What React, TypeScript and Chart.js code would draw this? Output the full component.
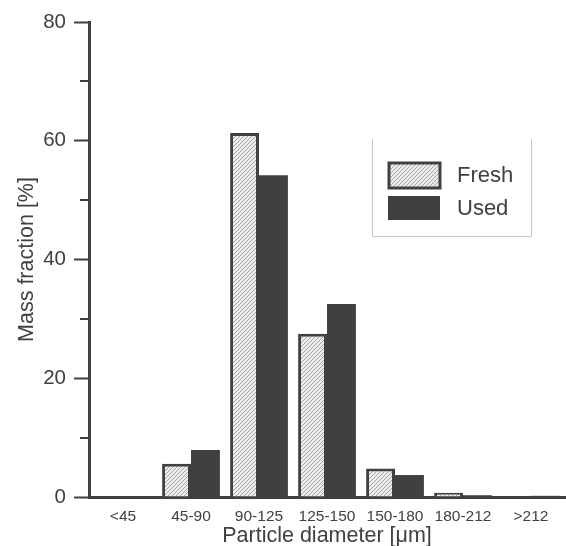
import React, { useEffect, useRef } from 'react';
import { Chart, registerables } from 'chart.js';

Chart.register(...registerables);

const categories = ['<45', '45-90', '90-125', '125-150', '150-180', '180-212', '>212'];
const freshValues = [0, 5.6, 61.3, 27.5, 4.8, 0.7, 0.05];
const usedValues = [0, 7.9, 54.2, 32.5, 3.7, 0.3, 0.2];
const seriesLabels = ['Fresh', 'Used'];
const yMinorTicks = [10, 30, 50, 70];

const INK = '#404040';
const FONT = "'Liberation Sans', Arial, sans-serif";

function makeHatch(): CanvasPattern | string {
  const c = document.createElement('canvas');
  c.width = 4;
  c.height = 4;
  const g = c.getContext('2d');
  if (!g) return '#d8d8d8';
  g.fillStyle = '#ececec';
  g.fillRect(0, 0, 4, 4);
  g.fillStyle = '#a6a6a6';
  for (let i = 0; i < 4; i++) g.fillRect(i, 3 - i, 1, 1);
  return g.createPattern(c, 'repeat') || '#d8d8d8';
}

const minorTickPlugin = {
  id: 'minorTicks',
  afterDraw(chart: any) {
    const y = chart.scales.y;
    const ctx = chart.ctx;
    const left = chart.chartArea.left;
    ctx.save();
    ctx.strokeStyle = INK;
    ctx.lineWidth = 2;
    yMinorTicks.forEach((v) => {
      const py = Math.round(y.getPixelForValue(v));
      ctx.beginPath();
      ctx.moveTo(left - 9, py);
      ctx.lineTo(left, py);
      ctx.stroke();
    });
    ctx.restore();
  },
};

const legendPlugin = {
  id: 'boxLegend',
  afterDraw(chart: any) {
    const ctx = chart.ctx;
    const ds = chart.data.datasets;
    ctx.save();
    ctx.strokeStyle = '#c8c8c8';
    ctx.lineWidth = 1;
    ctx.beginPath();
    ctx.moveTo(372.5, 139);
    ctx.lineTo(372.5, 236.5);
    ctx.lineTo(531.5, 236.5);
    ctx.lineTo(531.5, 139);
    ctx.stroke();
    ctx.fillStyle = ds[0].backgroundColor;
    ctx.fillRect(389, 163, 51, 25);
    ctx.strokeStyle = ds[0].borderColor;
    ctx.lineWidth = 3;
    ctx.strokeRect(389, 163, 51, 25);
    ctx.fillStyle = ds[1].backgroundColor;
    ctx.fillRect(388, 196, 52, 24);
    ctx.fillStyle = INK;
    ctx.font = `22px ${FONT}`;
    ctx.textBaseline = 'middle';
    ctx.textAlign = 'left';
    ctx.fillText(ds[0].label, 457, 176);
    ctx.fillText(ds[1].label, 457, 209);
    ctx.restore();
  },
};

export default function App() {
  const ref = useRef<HTMLCanvasElement | null>(null);

  useEffect(() => {
    if (!ref.current) return;
    Chart.defaults.font.family = FONT;
    Chart.defaults.color = INK;
    const hatch = makeHatch();
    const chart = new Chart(ref.current, {
      type: 'bar',
      data: {
        labels: categories,
        datasets: [
          {
            label: seriesLabels[0],
            data: freshValues,
            backgroundColor: hatch as any,
            borderColor: INK,
            borderWidth: 3,
            categoryPercentage: 0.85,
            barPercentage: 1,
          },
          {
            label: seriesLabels[1],
            data: usedValues,
            backgroundColor: INK,
            borderColor: INK,
            borderWidth: 0,
            categoryPercentage: 0.85,
            barPercentage: 1,
          },
        ],
      },
      options: {
        animation: false,
        responsive: false,
        devicePixelRatio: 1,
        layout: { padding: { top: 22, right: 1, left: 0, bottom: 0 } },
        plugins: {
          legend: { display: false },
          tooltip: { enabled: false },
        },
        scales: {
          x: {
            grid: { display: false, drawTicks: false },
            border: { display: true, color: INK, width: 3 },
            ticks: {
              color: INK,
              font: { size: 15.5, family: FONT },
              padding: 10,
              maxRotation: 0,
              autoSkip: false,
            },
            title: {
              display: true,
              text: 'Particle diameter [μm]',
              color: INK,
              font: { size: 21.5, family: FONT, lineHeight: 1 },
              padding: { top: 0, bottom: -1 },
            },
            afterFit: (s: any) => {
              s.height = 49;
            },
          },
          y: {
            min: 0,
            max: 80,
            grid: {
              display: true,
              drawOnChartArea: false,
              drawTicks: true,
              tickLength: 15,
              tickWidth: 2,
              tickColor: INK,
            },
            border: { display: true, color: INK, width: 3 },
            ticks: {
              stepSize: 20,
              color: INK,
              font: { size: 20.5, family: FONT },
              padding: 8,
            },
            title: {
              display: true,
              text: 'Mass fraction [%]',
              color: INK,
              font: { size: 21.5, family: FONT, lineHeight: 1 },
              padding: { top: 16, bottom: 0 },
            },
            afterFit: (s: any) => {
              s.width = 89;
            },
          },
        },
      },
      plugins: [minorTickPlugin, legendPlugin],
    } as any);
    return () => chart.destroy();
  }, []);

  return (
    <div style={{ position: 'absolute', left: 0, top: 0, width: 566, height: 546, background: '#fff' }}>
      <canvas ref={ref} width={566} height={546} style={{ display: 'block' }} />
    </div>
  );
}
